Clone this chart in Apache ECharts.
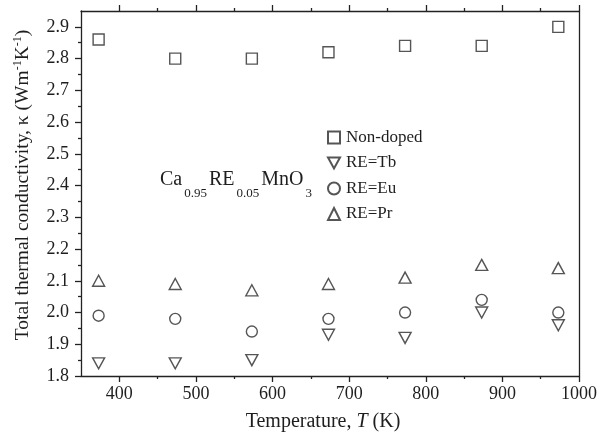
<!DOCTYPE html>
<html>
<head>
<meta charset="utf-8">
<script src="https://cdn.jsdelivr.net/npm/echarts@6/dist/echarts.min.js"></script>
<style>html,body{margin:0;padding:0;background:#fff;}#c{width:600px;height:438px;}</style>
</head>
<body>
<div id="c"></div>
<script>
var temperature = [373, 473, 573, 673, 773, 873, 973];
var nonDoped = [2.86, 2.80, 2.80, 2.82, 2.84, 2.84, 2.90];
var reTb = [1.84, 1.84, 1.85, 1.93, 1.92, 2.00, 1.96];
var reEu = [1.99, 1.98, 1.94, 1.98, 2.00, 2.04, 2.00];
var rePr = [2.10, 2.09, 2.07, 2.09, 2.11, 2.15, 2.14];
var seriesNames = ['Non-doped', 'RE=Tb', 'RE=Eu', 'RE=Pr'];
var xMajor = [400, 500, 600, 700, 800, 900, 1000];
var xMinor = [450, 550, 650, 750, 850, 950];
var yMajor = [1.8, 1.9, 2.0, 2.1, 2.2, 2.3, 2.4, 2.5, 2.6, 2.7, 2.8, 2.9];
var yMinor = [1.85, 1.95, 2.05, 2.15, 2.25, 2.35, 2.45, 2.55, 2.65, 2.75, 2.85];

var FONT = '"Liberation Serif", "Times New Roman", serif';
var INK = '#1e1e1e';
var LINE = '#222';

function pairs(ys) { return temperature.map(function (t, i) { return [t, ys[i]]; }); }

var markStyle = { color: 'rgba(0,0,0,0)', borderColor: '#2a2a2a', borderWidth: 1.4 };

function xAx(pos, ticks, len, showLine, labels) {
  return {
    type: 'value', position: pos, min: 350, max: 1000, interval: 50,
    splitLine: { show: false },
    axisLine: { show: showLine, onZero: false, lineStyle: { color: LINE, width: 1.3 } },
    axisTick: { show: true, inside: false, length: len, customValues: ticks, lineStyle: { color: LINE, width: 1.3 } },
    axisLabel: labels ? { show: true, customValues: xMajor, margin: 9, color: INK, fontFamily: FONT, fontSize: 18,
      formatter: function (v) { return String(v); } } : { show: false }
  };
}
function yAx(pos, ticks, len, showLine, labels) {
  return {
    type: 'value', position: pos, min: 1.8, max: 2.95, interval: 0.05,
    splitLine: { show: false },
    axisLine: { show: showLine, onZero: false, lineStyle: { color: LINE, width: 1.3 } },
    axisTick: { show: ticks !== null, inside: false, length: len, customValues: ticks || [], lineStyle: { color: LINE, width: 1.3 } },
    axisLabel: labels ? { show: true, customValues: yMajor, margin: 12, color: INK, fontFamily: FONT, fontSize: 18,
      formatter: function (v) { return v.toFixed(1); } } : { show: false }
  };
}

var xAxes = [
  xAx('bottom', xMajor, 6, true, true),
  xAx('bottom', xMinor, 3, false, false),
  xAx('top', xMajor, 6, true, false),
  xAx('top', xMinor, 3, false, false)
];
xAxes[0].name = 'Temperature, {i|T} (K)';
xAxes[0].nameLocation = 'middle';
xAxes[0].nameGap = 36;
xAxes[0].nameTextStyle = { color: INK, fontFamily: FONT, fontSize: 20, padding: [0, 14, 0, 0],
  rich: { i: { fontStyle: 'italic', fontFamily: FONT, fontSize: 20, color: INK } } };

var yAxes = [
  yAx('left', yMajor, 6, true, true),
  yAx('left', yMinor, 3, false, false),
  yAx('right', null, 0, true, false)
];
yAxes[0].name = 'Total thermal conductivity, κ (Wm{s|-1}K{s|-1})';
yAxes[0].nameLocation = 'middle';
yAxes[0].nameGap = 48;
yAxes[0].nameTextStyle = { color: INK, fontFamily: FONT, fontSize: 19.5, lineHeight: 21, padding: [0, 0, 0, 17],
  rich: { s: { fontSize: 12, fontFamily: FONT, color: INK, lineHeight: 21, verticalAlign: 'top' } } };

var chart = echarts.init(document.getElementById('c'), null, { renderer: 'canvas' });
chart.setOption({
  backgroundColor: '#fff',
  animation: false,
  grid: { left: 81, right: 18, top: 11, bottom: 62, containLabel: false },
  xAxis: xAxes,
  yAxis: yAxes,
  legend: {
    orient: 'vertical', left: 327, top: 129, itemGap: 8.5, itemWidth: 12, itemHeight: 12, padding: 0,
    data: seriesNames,
    textStyle: { color: INK, fontFamily: FONT, fontSize: 17, padding: [0, 0, 0, 1] }
  },
  graphic: [{
    type: 'text', left: 160, top: 170, silent: true,
    style: {
      text: '{m|Ca}{s|0.95}{m|RE}{s|0.05}{m|MnO}{s|3}',
      rich: {
        m: { fontSize: 20, fontFamily: FONT, fill: INK, lineHeight: 20 },
        s: { fontSize: 13, fontFamily: FONT, fill: INK, lineHeight: 40, verticalAlign: 'bottom', padding: [0, 2, 0, 2] }
      }
    }
  }],
  series: [
    { name: seriesNames[0], type: 'scatter', data: pairs(nonDoped), symbol: 'rect', symbolSize: 11, itemStyle: markStyle },
    { name: seriesNames[1], type: 'scatter', data: pairs(reTb), symbol: 'path://M0,0L20,0L10,18Z', symbolSize: [12, 11], itemStyle: markStyle },
    { name: seriesNames[2], type: 'scatter', data: pairs(reEu), symbol: 'circle', symbolSize: 11, itemStyle: markStyle },
    { name: seriesNames[3], type: 'scatter', data: pairs(rePr), symbol: 'triangle', symbolSize: [12, 11], itemStyle: markStyle }
  ]
});
</script>
</body>
</html>
